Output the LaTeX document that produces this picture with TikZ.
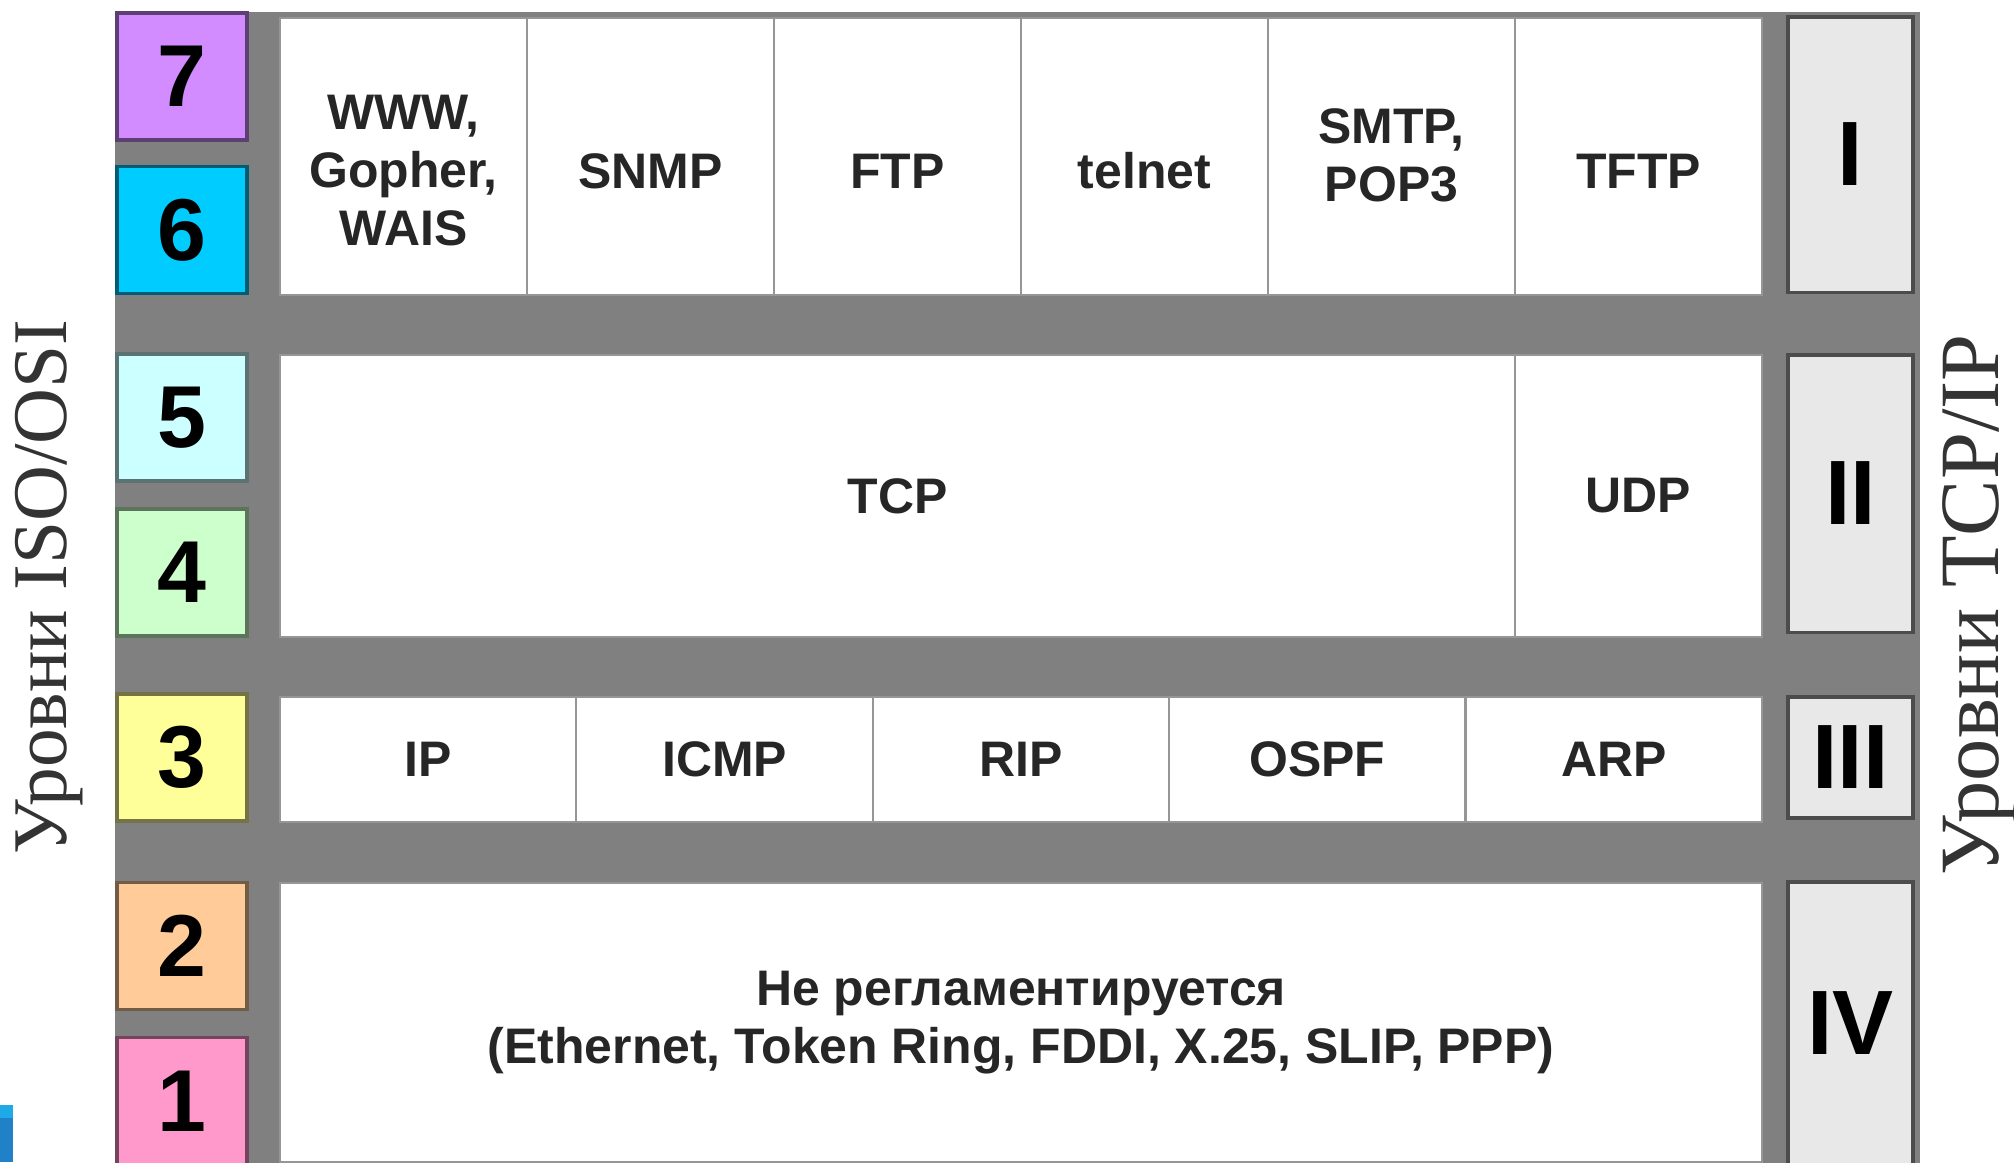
\documentclass[tikz,border=0pt]{standalone}
\usepackage{fontspec}
\setmainfont{Liberation Sans}
\newfontfamily\sidefont{Liberation Serif}
\usepackage{tikz}
\usetikzlibrary{positioning}
\definecolor{frame}{RGB}{128,128,128}
\definecolor{romanfill}{RGB}{232,232,232}
\definecolor{divider}{RGB}{150,150,150}
\definecolor{lvlseven}{RGB}{210,140,255}
\definecolor{lvlsix}{RGB}{0,204,255}
\definecolor{lvlfive}{RGB}{204,255,255}
\definecolor{lvlfour}{RGB}{204,255,204}
\definecolor{lvlthree}{RGB}{255,255,153}
\definecolor{lvltwo}{RGB}{255,204,153}
\definecolor{lvlone}{RGB}{255,153,204}
\definecolor{slideblue}{RGB}{32,128,200}
\definecolor{slidecyan}{RGB}{30,170,230}

\begin{document}
\begin{tikzpicture}[x=0.01cm,y=-0.01cm,
  cell/.style={draw=divider,line width=0.6pt,fill=white,inner sep=0pt},
  proto/.style={font=\bfseries\fontsize{14.2}{16.5}\selectfont,align=center,text=black!85},
  osibox/.style={line width=0.9pt,minimum width=1.3cm,minimum height=1.27cm,inner sep=0pt,font=\bfseries\fontsize{25}{25}\selectfont},
  tcpbox/.style={draw=black!70,line width=0.9pt,fill=romanfill,minimum width=1.25cm,inner sep=0pt,font=\bfseries\fontsize{26}{26}\selectfont},
  side/.style={rotate=90,font=\sidefont\fontsize{22}{22}\selectfont,text=black!80}]
  \useasboundingbox (0,0) rectangle (2014,1162);
  \fill[frame] (115,12) rectangle (1920,1170);
  \fill[slideblue] (0,1105) rectangle (13,1162); \fill[slidecyan] (0,1105) rectangle (13,1118);
  \foreach \k in {0,...,5} {\node[cell,minimum width=2.47cm,minimum height=2.77cm] (app\k) at ({403.5+247*\k},156.5) {};}
  \foreach \k/\y/\t in {0/171/{WWW,\\Gopher,\\WAIS},1/171/SNMP,2/171/FTP,3/171/telnet,4/155/{SMTP,\\POP3},5/171/TFTP} {\node[proto] (apptxt\k) at ({403.5+247*\k},\y) {\t};}
  \node[cell,proto,minimum width=12.35cm,minimum height=2.82cm] (tcp) at (897.5,496) {TCP};
  \node[cell,proto,minimum width=2.47cm,minimum height=2.82cm] (udp) at (1638.5,496) {UDP};
  \foreach \k/\t in {0/IP,1/ICMP,2/RIP,3/OSPF,4/ARP} {\node[cell,proto,minimum width=2.964cm,minimum height=1.25cm] (net\k) at ({428.2+296.4*\k},759.5) {\t};}
  \node[cell,proto,minimum width=14.82cm,minimum height=2.79cm] (link) at (1021,1022.5) {Не регламентируется\\(Ethernet, Token Ring, FDDI, X.25, SLIP, PPP)};
  \foreach \k/\c/\y in {7/lvlseven/76.5,6/lvlsix/230,5/lvlfive/417.5,4/lvlfour/572.5,3/lvlthree/757.5,2/lvltwo/946,1/lvlone/1101} {\node[osibox,fill=\c,draw=\c!45!black] (osi\k) at (182,\y) {\k};}
  \foreach \k/\n/\y/\h in {1/I/154.5/2.75,2/II/493.5/2.77,3/III/757.5/1.21,4/IV/1023.5/2.83} {\node[tcpbox,minimum height=\h cm] (tcpip\k) at (1850.5,\y) {\n};}
  \node[side] (isolbl) at (49,587) {Уровни ISO/OSI};
  \node[side,font=\sidefont\fontsize{24}{24}\selectfont] (tcplbl) at (1980,605) {Уровни TCP/IP};
\end{tikzpicture}
\end{document}
